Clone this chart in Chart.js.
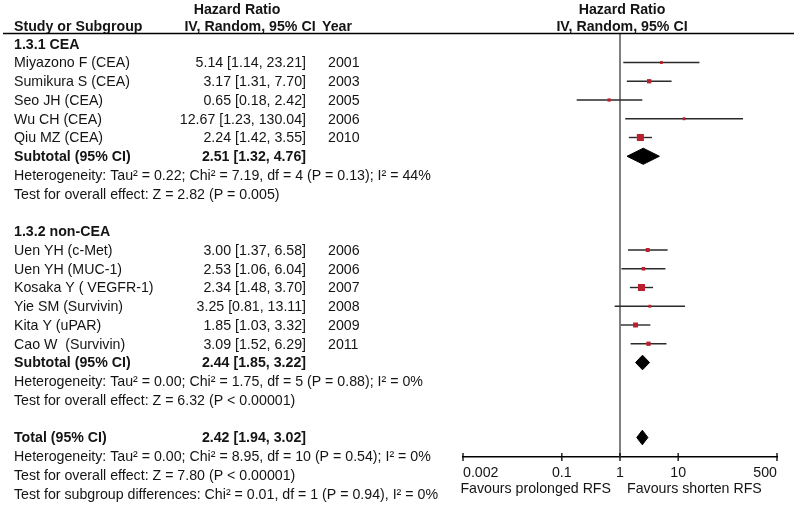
<!DOCTYPE html>
<html>
<head>
<meta charset="utf-8">
<script src="https://cdn.jsdelivr.net/npm/chart.js@4.4.1/dist/chart.umd.min.js"></script>
<style>
  html, body { margin: 0; padding: 0; background: #fff; }
</style>
</head>
<body>
<canvas id="forest" width="794" height="508"></canvas>
<script>
// ---- data ----
const groupTitles = ["1.3.1 CEA", "1.3.2 non-CEA"];

const studyNames = [
  "Miyazono F (CEA)", "Sumikura S (CEA)", "Seo JH (CEA)", "Wu CH (CEA)", "Qiu MZ (CEA)",
  "Uen YH (c-Met)", "Uen YH (MUC-1)", "Kosaka Y ( VEGFR-1)", "Yie SM (Survivin)",
  "Kita Y (uPAR)", "Cao W  (Survivin)"
];
const studyGroup = [0, 0, 0, 0, 0, 1, 1, 1, 1, 1, 1];
const studyYears = [2001, 2003, 2005, 2006, 2010, 2006, 2006, 2007, 2008, 2009, 2011];
const hrEst  = [5.14, 3.17, 0.65, 12.67, 2.24, 3.00, 2.53, 2.34, 3.25, 1.85, 3.09];
const ciLow  = [1.14, 1.31, 0.18, 1.23, 1.42, 1.37, 1.06, 1.48, 0.81, 1.03, 1.52];
const ciHigh = [23.21, 7.70, 2.42, 130.04, 3.55, 6.58, 6.04, 3.70, 13.11, 3.32, 6.29];
// estimated study weights (%), box area follows weight
const studyWeights = [3.7, 8.2, 4.6, 3.7, 22.1, 6.9, 5.6, 22.1, 3.7, 10.9, 8.2];

const subtotalHr   = [2.51, 2.44];
const subtotalLow  = [1.32, 1.85];
const subtotalHigh = [4.76, 3.22];
const heterogeneityText = [
  "Heterogeneity: Tau\u00b2 = 0.22; Chi\u00b2 = 7.19, df = 4 (P = 0.13); I\u00b2 = 44%",
  "Heterogeneity: Tau\u00b2 = 0.00; Chi\u00b2 = 1.75, df = 5 (P = 0.88); I\u00b2 = 0%"
];
const overallEffectText = [
  "Test for overall effect: Z = 2.82 (P = 0.005)",
  "Test for overall effect: Z = 6.32 (P < 0.00001)"
];

const totalHr = [2.42, 1.94, 3.02]; // estimate, low, high
const totalNotes = [
  "Heterogeneity: Tau\u00b2 = 0.00; Chi\u00b2 = 8.95, df = 10 (P = 0.54); I\u00b2 = 0%",
  "Test for overall effect: Z = 7.80 (P < 0.00001)",
  "Test for subgroup differences: Chi\u00b2 = 0.01, df = 1 (P = 0.94), I\u00b2 = 0%"
];

const xTicks = [0.002, 0.1, 1, 10, 500];
const favourLabels = ["Favours prolonged RFS", "Favours shorten RFS"];

// ---- row layout (one row per text line, top to bottom) ----
const rows = [];
groupTitles.forEach((title, g) => {
  rows.push({ kind: "group", text: title });
  studyNames.forEach((_, i) => { if (studyGroup[i] === g) rows.push({ kind: "study", i }); });
  rows.push({ kind: "subtotal", g });
  rows.push({ kind: "note", text: heterogeneityText[g] });
  rows.push({ kind: "note", text: overallEffectText[g] });
  rows.push({ kind: "blank" });
});
rows.push({ kind: "total" });
totalNotes.forEach((t) => rows.push({ kind: "note", text: t }));

const rowOf = (pred) => rows.findIndex(pred);
const studyRow = studyNames.map((_, i) => rowOf((r) => r.kind === "study" && r.i === i));
const subtotalRow = subtotalHr.map((_, g) => rowOf((r) => r.kind === "subtotal" && r.g === g));
const totalRow = rowOf((r) => r.kind === "total");

const FONT = "'Liberation Sans', Arial, sans-serif";
const FS = 14.2;
const INK = "#141414";
const fmt = (v) => v.toFixed(2);
const ciText = (hr, lo, hi) => `${fmt(hr)} [${fmt(lo)}, ${fmt(hi)}]`;

// ---- datasets ----
const datasets = [];

// study boxes
datasets.push({
  data: studyNames.map((_, i) => ({ x: hrEst[i], y: studyRow[i] })),
  pointStyle: "rect",
  pointRadius: studyWeights.map((w) => (Math.sqrt(w) * 1.5) / Math.SQRT2),
  backgroundColor: "#b91f2c",
  borderWidth: 0,
  showLine: false,
  order: 0
});

// confidence interval whiskers
studyNames.forEach((_, i) => {
  datasets.push({
    data: [{ x: ciLow[i], y: studyRow[i] }, { x: ciHigh[i], y: studyRow[i] }],
    showLine: true,
    borderColor: "#2a2a2a",
    borderWidth: 1.4,
    pointRadius: 0,
    order: 1
  });
});

// pooled diamonds
const diamonds = subtotalHr.map((hr, g) => ({ hr, lo: subtotalLow[g], hi: subtotalHigh[g], row: subtotalRow[g], h: g === 0 ? 0.43 : 0.39 }));
diamonds.push({ hr: totalHr[0], lo: totalHr[1], hi: totalHr[2], row: totalRow, h: 0.39 });
diamonds.forEach((d) => {
  datasets.push({
    data: [
      { x: d.lo, y: d.row }, { x: d.hr, y: d.row - d.h },
      { x: d.hi, y: d.row }, { x: d.hr, y: d.row + d.h }, { x: d.lo, y: d.row }
    ],
    showLine: true,
    fill: "shape",
    borderColor: "#000",
    backgroundColor: "#000",
    borderWidth: 1,
    pointRadius: 0,
    tension: 0,
    order: 1
  });
});

// ---- drawing of the table text, reference line and tick crosses ----
const forestDecor = {
  id: "forestDecor",
  beforeDatasetsDraw(chart) {
    const { ctx, chartArea, scales } = chart;
    const x1 = scales.x.getPixelForValue(1);
    ctx.save();
    ctx.strokeStyle = "#808080";
    ctx.lineWidth = 2;
    ctx.beginPath();
    ctx.moveTo(x1, chartArea.top);
    ctx.lineTo(x1, chartArea.bottom);
    ctx.stroke();
    ctx.restore();
  },
  afterDraw(chart) {
    const { ctx, chartArea, scales } = chart;
    const x = scales.x, y = scales.y;
    const x1 = x.getPixelForValue(1);
    ctx.save();

    // tick crosses on the axis
    ctx.strokeStyle = "#000";
    ctx.lineWidth = 1.3;
    xTicks.forEach((v) => {
      const px = x.getPixelForValue(v);
      ctx.beginPath();
      ctx.moveTo(px, chartArea.bottom - 4);
      ctx.lineTo(px, chartArea.bottom + 4);
      ctx.stroke();
    });

    // header
    ctx.fillStyle = INK;
    ctx.textBaseline = "middle";
    ctx.font = `bold ${FS}px ${FONT}`;
    ctx.textAlign = "center";
    ctx.fillText("Hazard Ratio", 237, 10);
    ctx.fillText("IV, Random, 95% CI", 250, 27);
    ctx.fillText("Hazard Ratio", x1 + 2, 10);
    ctx.fillText("IV, Random, 95% CI", x1 + 2, 27);
    ctx.textAlign = "left";
    ctx.fillText("Study or Subgroup", 14, 27);
    ctx.fillText("Year", 322, 27);

    ctx.strokeStyle = "#000";
    ctx.lineWidth = 1.5;
    ctx.beginPath();
    ctx.moveTo(3, 33.5);
    ctx.lineTo(794, 33.5);
    ctx.stroke();

    // rows
    rows.forEach((r, k) => {
      const py = y.getPixelForValue(k) + 1;
      if (r.kind === "group") {
        ctx.font = `bold ${FS}px ${FONT}`;
        ctx.textAlign = "left";
        ctx.fillText(r.text, 14, py);
      } else if (r.kind === "study") {
        const i = r.i;
        ctx.font = `${FS}px ${FONT}`;
        ctx.textAlign = "left";
        ctx.fillText(studyNames[i], 14, py);
        ctx.fillText(String(studyYears[i]), 328, py);
        ctx.textAlign = "right";
        ctx.fillText(ciText(hrEst[i], ciLow[i], ciHigh[i]), 306, py);
      } else if (r.kind === "subtotal" || r.kind === "total") {
        ctx.font = `bold ${FS}px ${FONT}`;
        ctx.textAlign = "left";
        ctx.fillText(r.kind === "total" ? "Total (95% CI)" : "Subtotal (95% CI)", 14, py);
        ctx.textAlign = "right";
        const t = r.kind === "total"
          ? ciText(totalHr[0], totalHr[1], totalHr[2])
          : ciText(subtotalHr[r.g], subtotalLow[r.g], subtotalHigh[r.g]);
        ctx.fillText(t, 306, py);
      } else if (r.kind === "note") {
        ctx.font = `${FS}px ${FONT}`;
        ctx.textAlign = "left";
        ctx.fillText(r.text, 14, py);
      }
    });

    // favours labels
    ctx.font = `${FS}px ${FONT}`;
    ctx.textAlign = "right";
    ctx.fillText(favourLabels[0], x1 - 9, 489);
    ctx.textAlign = "left";
    ctx.fillText(favourLabels[1], x1 + 7, 489);
    ctx.restore();
  }
};

new Chart(document.getElementById("forest"), {
  type: "scatter",
  data: { datasets },
  options: {
    responsive: false,
    animation: false,
    events: [],
    layout: { padding: { left: 463, right: 17, top: 34, bottom: 0 }, autoPadding: false },
    plugins: { legend: { display: false }, tooltip: { enabled: false } },
    scales: {
      x: {
        type: "logarithmic",
        min: xTicks[0],
        max: xTicks[xTicks.length - 1],
        afterBuildTicks: (s) => { s.ticks = xTicks.map((v) => ({ value: v })); },
        afterFit: (s) => { s.height = 51; },
        grid: { drawOnChartArea: false, drawTicks: false },
        border: { display: true, color: "#000", width: 1.5 },
        ticks: {
          autoSkip: false,
          maxRotation: 0,
          align: "inner",
          padding: 8,
          color: INK,
          font: { family: FONT, size: FS },
          callback: (v) => String(v)
        }
      },
      y: { type: "linear", display: false, reverse: true, min: -0.52, max: 22.04 }
    }
  },
  plugins: [forestDecor]
});
</script>
</body>
</html>
